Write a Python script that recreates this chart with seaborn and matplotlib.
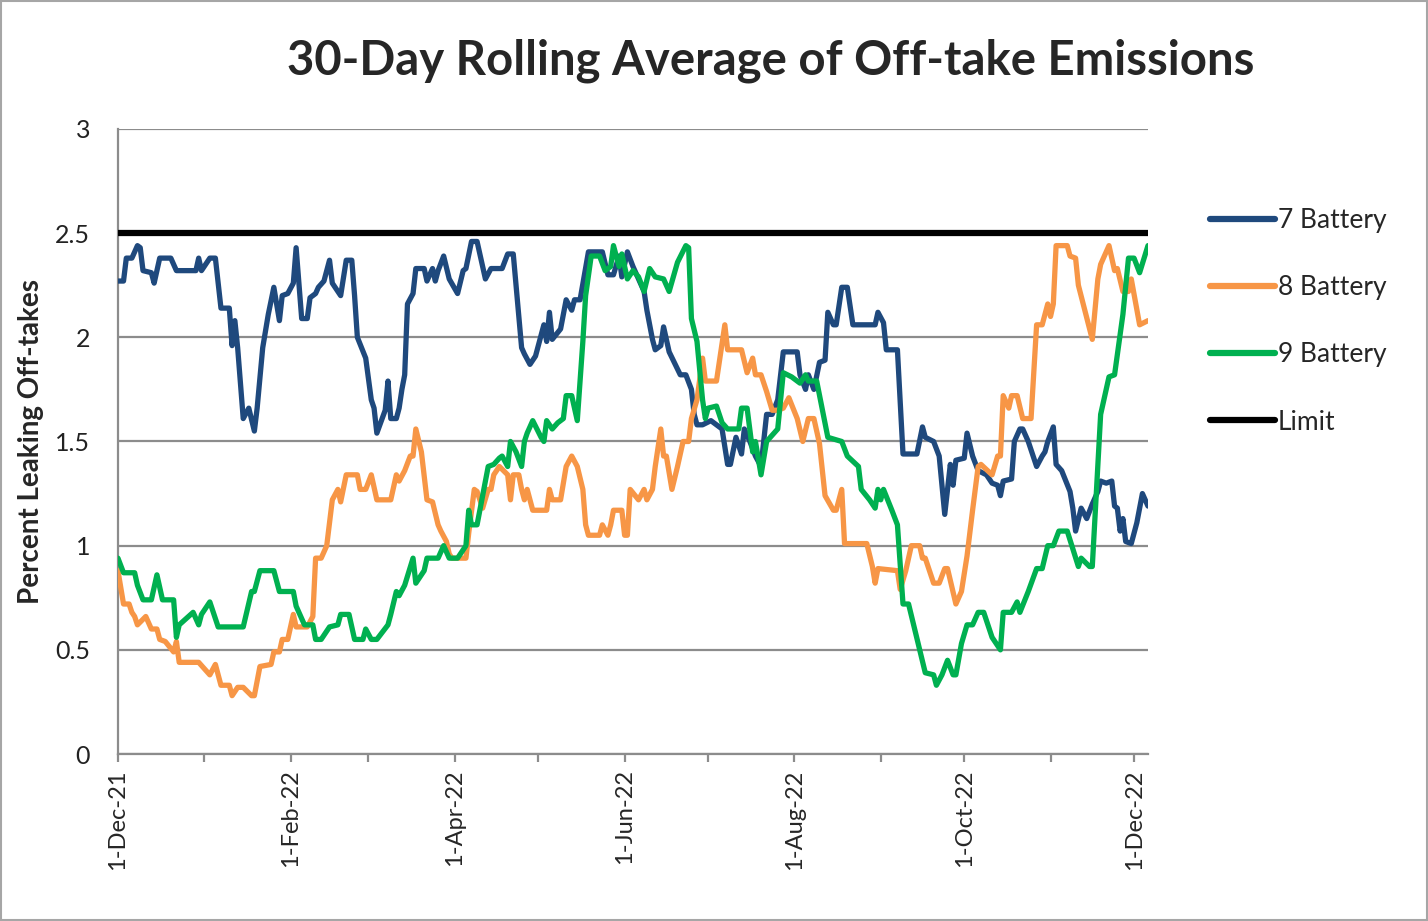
import pandas as pd
import numpy as np
import matplotlib
matplotlib.use("Agg")
import matplotlib.pyplot as plt
import matplotlib.dates as mdates
from matplotlib.lines import Line2D
from matplotlib.patches import Rectangle
import seaborn as sns

# days after 1-Dec-21 and the rolling average
start = pd.Timestamp("2021-12-01")

b7_days = [0, 2, 3, 5, 7, 8, 9, 12, 13, 15, 19, 21, 28, 29, 30, 33, 35, 37, 40, 41, 42, 43, 45, 47, 49, 50,
           52, 54, 56, 58, 59, 61, 63, 64, 66, 68, 69, 71, 72, 74, 76, 77, 80, 82, 84, 85, 86, 89, 91, 92, 93,
           96, 97, 98, 100, 101, 102, 103, 104, 106, 107, 110, 111, 113, 114, 115, 117, 119, 122, 124, 125,
           127, 129, 132, 134, 138, 140, 142, 145, 146, 148, 150, 153, 154, 155, 156, 159, 161, 163, 164, 166,
           169, 174, 176, 178, 180, 181, 183, 185, 189, 190, 192, 193, 195, 196, 198, 202, 204, 206, 207, 208,
           210, 213, 217, 219, 220, 222, 224, 225, 227, 229, 231, 233, 235, 237, 239, 244, 245, 247, 248, 250,
           252, 254, 255, 257, 258, 260, 262, 264, 272, 273, 275, 276, 280, 282, 287, 289, 290, 293, 295, 297,
           299, 300, 301, 304, 305, 307, 309, 312, 314, 316, 317, 318, 321, 322, 324, 325, 327, 330, 332, 333,
           334, 336, 337, 339, 342, 343, 344, 346, 348, 350, 352, 353, 355, 357, 358, 359, 360, 361, 362, 364,
           366, 368, 370]
b7_vals = [2.27, 2.27, 2.38, 2.38, 2.44, 2.43, 2.32, 2.31, 2.26, 2.38, 2.38, 2.32, 2.32, 2.38, 2.32, 2.38, 2.38,
           2.14, 2.14, 1.96, 2.08, 1.95, 1.61, 1.66, 1.55, 1.66, 1.95, 2.11, 2.24, 2.08, 2.20, 2.21, 2.26, 2.43,
           2.09, 2.09, 2.19, 2.21, 2.24, 2.27, 2.37, 2.26, 2.20, 2.37, 2.37, 2.20, 2.00, 1.90, 1.70, 1.66, 1.54,
           1.65, 1.79, 1.61, 1.61, 1.66, 1.75, 1.82, 2.16, 2.21, 2.33, 2.33, 2.27, 2.33, 2.27, 2.32, 2.39, 2.28,
           2.21, 2.32, 2.33, 2.46, 2.46, 2.28, 2.33, 2.33, 2.40, 2.40, 1.95, 1.92, 1.87, 1.91, 2.06, 1.98, 2.12,
           1.99, 2.04, 2.18, 2.13, 2.18, 2.18, 2.41, 2.41, 2.30, 2.30, 2.39, 2.29, 2.41, 2.34, 2.22, 2.13, 1.99,
           1.94, 1.96, 2.05, 1.93, 1.82, 1.82, 1.75, 1.63, 1.58, 1.58, 1.60, 1.56, 1.39, 1.39, 1.52, 1.44, 1.56,
           1.50, 1.43, 1.38, 1.63, 1.63, 1.70, 1.93, 1.93, 1.82, 1.75, 1.82, 1.75, 1.88, 1.89, 2.12, 2.06, 2.06,
           2.24, 2.24, 2.06, 2.06, 2.12, 2.07, 1.94, 1.94, 1.44, 1.44, 1.57, 1.52, 1.50, 1.43, 1.15, 1.39, 1.29,
           1.41, 1.42, 1.54, 1.43, 1.36, 1.34, 1.30, 1.29, 1.24, 1.31, 1.32, 1.50, 1.56, 1.56, 1.50, 1.38, 1.43,
           1.45, 1.50, 1.57, 1.39, 1.36, 1.26, 1.18, 1.07, 1.18, 1.13, 1.20, 1.26, 1.31, 1.30, 1.31, 1.19, 1.18,
           1.07, 1.13, 1.02, 1.01, 1.11, 1.25, 1.19]

b8_days = [0, 2, 4, 5, 6, 7, 10, 12, 14, 15, 17, 20, 21, 22, 29, 33, 35, 37, 40, 41, 43, 45, 48, 49, 51, 55,
           56, 58, 59, 61, 63, 64, 68, 70, 71, 73, 75, 77, 79, 80, 82, 86, 87, 89, 91, 93, 98, 100, 101, 103,
           105, 106, 107, 109, 111, 113, 115, 116, 118, 119, 120, 125, 126, 128, 129, 131, 133, 134, 135, 137,
           140, 141, 142, 144, 145, 146, 147, 149, 154, 155, 156, 159, 161, 163, 165, 167, 168, 169, 173, 174,
           176, 177, 178, 181, 182, 183, 184, 187, 189, 190, 192, 193, 195, 196, 197, 199, 201, 203, 205, 206,
           208, 210, 211, 215, 218, 219, 224, 226, 228, 229, 231, 233, 235, 237, 239, 241, 244, 246, 248, 250,
           252, 254, 257, 258, 260, 261, 269, 271, 272, 273, 280, 281, 283, 285, 288, 289, 290, 293, 295, 297,
           298, 301, 303, 305, 307, 309, 310, 314, 316, 317, 318, 320, 321, 323, 325, 328, 330, 332, 333, 334,
           335, 336, 337, 341, 342, 344, 345, 350, 352, 353, 356, 358, 359, 361, 363, 364, 367, 370]
b8_vals = [0.88, 0.72, 0.72, 0.68, 0.66, 0.62, 0.66, 0.60, 0.60, 0.55, 0.54, 0.49, 0.54, 0.44, 0.44, 0.38, 0.43,
           0.33, 0.33, 0.28, 0.32, 0.32, 0.28, 0.28, 0.42, 0.43, 0.49, 0.49, 0.55, 0.55, 0.67, 0.61, 0.61, 0.66,
           0.94, 0.94, 1.00, 1.22, 1.27, 1.21, 1.34, 1.34, 1.27, 1.27, 1.34, 1.22, 1.22, 1.34, 1.31, 1.36, 1.43,
           1.43, 1.56, 1.45, 1.22, 1.21, 1.10, 1.07, 1.02, 0.96, 0.94, 0.94, 1.06, 1.27, 1.26, 1.18, 1.27, 1.27,
           1.34, 1.38, 1.34, 1.22, 1.34, 1.34, 1.27, 1.22, 1.27, 1.17, 1.17, 1.27, 1.22, 1.22, 1.38, 1.43, 1.38,
           1.27, 1.10, 1.05, 1.05, 1.10, 1.05, 1.10, 1.17, 1.17, 1.05, 1.05, 1.27, 1.22, 1.27, 1.22, 1.27, 1.38,
           1.56, 1.43, 1.43, 1.27, 1.38, 1.50, 1.50, 1.61, 1.70, 1.90, 1.79, 1.79, 2.06, 1.94, 1.94, 1.83, 1.90,
           1.82, 1.82, 1.74, 1.65, 1.65, 1.66, 1.71, 1.61, 1.50, 1.61, 1.61, 1.49, 1.24, 1.17, 1.17, 1.27, 1.01,
           1.01, 0.90, 0.82, 0.89, 0.88, 0.79, 0.88, 1.00, 1.00, 0.94, 0.94, 0.82, 0.82, 0.89, 0.89, 0.72, 0.78,
           0.95, 1.17, 1.38, 1.39, 1.34, 1.43, 1.43, 1.72, 1.66, 1.72, 1.72, 1.61, 1.61, 2.06, 2.06, 2.11, 2.16,
           2.10, 2.16, 2.44, 2.44, 2.39, 2.38, 2.25, 1.99, 2.28, 2.35, 2.44, 2.32, 2.33, 2.22, 2.22, 2.28, 2.06,
           2.08]

b9_days = [0, 2, 6, 7, 9, 12, 14, 16, 20, 21, 22, 27, 29, 30, 33, 36, 45, 48, 49, 51, 56, 58, 63, 64, 67, 70,
           71, 73, 76, 79, 80, 83, 85, 88, 89, 91, 93, 97, 98, 100, 101, 103, 106, 107, 110, 111, 115, 117, 119,
           122, 125, 126, 127, 129, 131, 133, 135, 137, 138, 140, 141, 143, 145, 146, 147, 149, 152, 153, 154,
           156, 158, 160, 161, 163, 165, 167, 168, 170, 173, 175, 177, 178, 180, 181, 183, 185, 187, 189, 191,
           193, 196, 198, 201, 204, 205, 206, 208, 210, 211, 212, 215, 217, 219, 223, 224, 226, 228, 229, 231,
           233, 237, 239, 242, 245, 247, 248, 251, 255, 260, 262, 266, 267, 270, 272, 273, 274, 275, 278, 280,
           282, 284, 288, 290, 293, 294, 296, 298, 300, 301, 303, 305, 307, 309, 311, 314, 317, 318, 321, 323,
           324, 327, 330, 332, 334, 336, 338, 341, 345, 346, 349, 350, 353, 356, 358, 361, 363, 365, 367, 370]
b9_vals = [0.94, 0.87, 0.87, 0.81, 0.74, 0.74, 0.86, 0.74, 0.74, 0.56, 0.62, 0.68, 0.62, 0.67, 0.73, 0.61, 0.61,
           0.78, 0.78, 0.88, 0.88, 0.78, 0.78, 0.71, 0.62, 0.62, 0.55, 0.55, 0.61, 0.62, 0.67, 0.67, 0.55, 0.55,
           0.60, 0.55, 0.55, 0.62, 0.67, 0.78, 0.76, 0.81, 0.94, 0.82, 0.88, 0.94, 0.94, 1.00, 0.94, 0.94, 1.00,
           1.17, 1.10, 1.10, 1.24, 1.38, 1.39, 1.42, 1.43, 1.38, 1.50, 1.45, 1.38, 1.50, 1.54, 1.60, 1.52, 1.50,
           1.60, 1.56, 1.59, 1.61, 1.72, 1.72, 1.60, 1.98, 2.20, 2.39, 2.39, 2.32, 2.34, 2.44, 2.34, 2.40, 2.28,
           2.32, 2.29, 2.22, 2.33, 2.29, 2.28, 2.22, 2.36, 2.44, 2.43, 2.09, 1.98, 1.70, 1.61, 1.66, 1.67, 1.59,
           1.56, 1.56, 1.66, 1.66, 1.45, 1.50, 1.34, 1.50, 1.56, 1.83, 1.81, 1.78, 1.82, 1.79, 1.79, 1.52, 1.50,
           1.43, 1.38, 1.27, 1.22, 1.18, 1.27, 1.22, 1.27, 1.17, 1.10, 0.72, 0.72, 0.50, 0.39, 0.38, 0.33, 0.38,
           0.45, 0.38, 0.38, 0.53, 0.62, 0.62, 0.68, 0.68, 0.56, 0.50, 0.68, 0.68, 0.73, 0.68, 0.78, 0.89, 0.89,
           1.00, 1.00, 1.07, 1.07, 0.90, 0.94, 0.90, 0.90, 1.63, 1.81, 1.82, 2.11, 2.38, 2.38, 2.31, 2.44]

limit_days = [0, 370]
limit_vals = [2.5, 2.5]

series_names = ["7 Battery", "8 Battery", "9 Battery", "Limit"]
colors = ["#1F497D", "#F79646", "#00B050", "#000000"]

frames = []
for name, d, v in zip(series_names, [b7_days, b8_days, b9_days, limit_days],
                      [b7_vals, b8_vals, b9_vals, limit_vals]):
    frames.append(pd.DataFrame({"date": start + pd.to_timedelta(d, unit="D"),
                                "value": v, "series": name}))
df = pd.concat(frames, ignore_index=True)

sns.set_style("white")
plt.rcParams["font.family"] = ["Lato", "DejaVu Sans"]

fig = plt.figure(figsize=(14.28, 9.21), dpi=100)
ax = fig.add_axes([0.0826, 0.1813, 0.7213, 0.6787])

palette = dict(zip(series_names, colors))
sns.lineplot(data=df[df.series != "Limit"], x="date", y="value", hue="series", palette=palette,
             estimator=None, sort=False, linewidth=3.8, legend=False, ax=ax, zorder=3)
sns.lineplot(data=df[df.series == "Limit"], x="date", y="value", color="black",
             estimator=None, linewidth=4.5, legend=False, ax=ax, zorder=4)

ax.set_ylim(0, 3)
ax.set_yticks(np.arange(0, 3.01, 0.5))
ax.set_yticklabels(["0", "0.5", "1", "1.5", "2", "2.5", "3"])
ax.set_xlim(start, start + pd.Timedelta(days=370))
ax.xaxis.set_major_locator(mdates.MonthLocator(bymonth=[12, 2, 4, 6, 8, 10]))
ax.xaxis.set_minor_locator(mdates.MonthLocator())
ax.xaxis.set_major_formatter(mdates.DateFormatter("%-d-%b-%y"))

grid_c = "#8C8C8C"
ax.yaxis.grid(True, color=grid_c, linewidth=1.6)
ax.set_axisbelow(True)
for s in ["top", "right"]:
    ax.spines[s].set_visible(False)
for s in ["left", "bottom"]:
    ax.spines[s].set_color(grid_c)
    ax.spines[s].set_linewidth(1.6)

ax.tick_params(axis="y", length=0, pad=20, labelsize=18, labelcolor="#222222")
ax.tick_params(axis="x", which="both", bottom=True, direction="out", length=6, width=1.6,
               color=grid_c, pad=5)
for lbl in ax.get_xticklabels():
    lbl.set_rotation(90)
    lbl.set_fontsize(17)

ax.set_xlabel("")
ax.set_ylabel("Percent Leaking Off-takes", fontsize=20, fontweight="bold", labelpad=8)

fig.text(0.54, 0.934, "30-Day Rolling Average of Off-take Emissions", ha="center", va="center",
         fontsize=34, fontweight="bold")

handles = [Line2D([0], [0], color=c, linewidth=4.5, solid_capstyle="round") for c in colors]
fig.legend(handles, series_names, loc="upper left", bbox_to_anchor=(0.831, 0.8), frameon=False,
           fontsize=19, handlelength=2.45, handletextpad=0.1, labelspacing=1.6)

fig.patches.append(Rectangle((0.001, 0.001), 0.998, 0.998, transform=fig.transFigure, fill=False,
                             edgecolor="#A6A6A6", linewidth=1.5))

fig.savefig("out.png", dpi=100)
